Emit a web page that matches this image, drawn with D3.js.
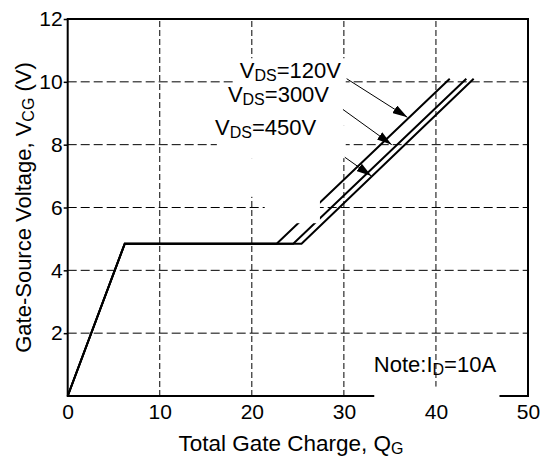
<!DOCTYPE html>
<html>
<head>
<meta charset="utf-8">
<script src="https://cdn.jsdelivr.net/npm/d3@7"></script>
<style>
  body { margin: 0; background: #fff; }
  text { font-family: "Liberation Sans", Arial, sans-serif; fill: #000; }
</style>
</head>
<body>
<svg id="chart"></svg>
<script>
// Data
const xTicks = [0, 10, 20, 30, 40, 50];
const yTicks = [2, 4, 6, 8, 10, 12];
const xGrid = [10, 20, 30, 40];
const yGrid = [2, 4, 6, 8, 10];

const curve120 = [[0, 0], [6.2, 4.85], [22.7, 4.85], [41.5, 10.1]];
const curve300 = [[0, 0], [6.2, 4.85], [24.5, 4.85], [43.3, 10.1]];
const curve450 = [[0, 0], [6.2, 4.85], [25.4, 4.85], [44.1, 10.1]];

const labels = [
  { name: '120V', x: 18.7, y: 10.12, from: [30.3, 10.1], to: [36.9, 8.87] },
  { name: '300V', x: 17.4, y: 9.37, from: [29.9, 9.12], to: [35.2, 8.0] },
  { name: '450V', x: 16.0, y: 8.31, from: [30.1, 7.6], to: [33.0, 7.0] }
];

// Set up dimensions
const width = 553;
const height = 457;

const svg = d3.select('#chart')
  .attr('width', width)
  .attr('height', height);

const xScale = d3.scaleLinear().domain([0, 50]).range([67.7, 528]);
const yScale = d3.scaleLinear().domain([0, 12]).range([396, 19]);

// Grid
svg.selectAll('.hgrid')
  .data(yGrid)
  .enter()
  .append('line')
  .attr('x1', xScale(0)).attr('x2', xScale(50))
  .attr('y1', d => yScale(d)).attr('y2', d => yScale(d))
  .attr('stroke', '#000').attr('stroke-width', 1)
  .attr('stroke-dasharray', '9,4');

svg.selectAll('.vgrid')
  .data(xGrid)
  .enter()
  .append('line')
  .attr('x1', d => xScale(d)).attr('x2', d => xScale(d))
  .attr('y1', yScale(0)).attr('y2', yScale(12))
  .attr('stroke', '#000').attr('stroke-width', 1)
  .attr('stroke-dasharray', '6,3');

// Curves
const line = d3.line().x(d => xScale(d[0])).y(d => yScale(d[1]));
[curve120, curve300, curve450].forEach(c => {
  svg.append('path')
    .attr('d', line(c))
    .attr('fill', 'none')
    .attr('stroke', '#000')
    .attr('stroke-width', 2);
});

// Frame
svg.append('rect')
  .attr('x', xScale(0)).attr('y', yScale(12))
  .attr('width', xScale(50) - xScale(0))
  .attr('height', yScale(0) - yScale(12))
  .attr('fill', 'none')
  .attr('stroke', '#000')
  .attr('stroke-width', 2);

// White patches behind the labels (blank areas in the original)
const patches = [
  [18.2, 30.2, 10.75, 8.6],
  [16.2, 30.2, 8.6, 7.57],
  [16.2, 27.4, 7.57, 6.34],
  [21.4, 27.4, 6.34, 5.5],
  [33.3, 46.9, 0.3, -0.2]
];
svg.selectAll('.patch')
  .data(patches)
  .enter()
  .append('rect')
  .attr('x', d => xScale(d[0]))
  .attr('y', d => yScale(d[2]))
  .attr('width', d => xScale(d[1]) - xScale(d[0]))
  .attr('height', d => yScale(d[3]) - yScale(d[2]))
  .attr('fill', '#fff');

// Axes labels
const xAxis = d3.axisBottom(xScale).tickValues(xTicks).tickSize(0).tickPadding(8);
const yAxis = d3.axisLeft(yScale).tickValues(yTicks).tickSize(4).tickPadding(1);

const gx = svg.append('g')
  .attr('transform', `translate(0, ${yScale(0)})`)
  .call(xAxis);
const gy = svg.append('g')
  .attr('transform', `translate(${xScale(0)}, 0)`)
  .call(yAxis);
[gx, gy].forEach(g => {
  g.select('.domain').remove();
  g.selectAll('line').attr('stroke', '#000').attr('stroke-width', 1.5);
  g.selectAll('text')
    .attr('font-size', 21)
    .style('font-family', '"Liberation Sans", Arial, sans-serif')
    .attr('fill', '#000');
});

// Arrows
svg.append('defs').append('marker')
  .attr('id', 'arrow')
  .attr('viewBox', '0 0 15 9')
  .attr('refX', 15).attr('refY', 4.5)
  .attr('markerWidth', 15).attr('markerHeight', 9)
  .attr('markerUnits', 'userSpaceOnUse')
  .attr('orient', 'auto')
  .append('path')
  .attr('d', 'M0,0 L15,4.5 L0,9 Z')
  .attr('fill', '#000');

svg.selectAll('.arrow')
  .data(labels)
  .enter()
  .append('line')
  .attr('x1', d => xScale(d.from[0])).attr('y1', d => yScale(d.from[1]))
  .attr('x2', d => xScale(d.to[0])).attr('y2', d => yScale(d.to[1]))
  .attr('stroke', '#000').attr('stroke-width', 1)
  .attr('marker-end', 'url(#arrow)');

// VDS labels
labels.forEach(d => {
  const t = svg.append('text')
    .attr('x', xScale(d.x))
    .attr('y', yScale(d.y))
    .attr('font-size', 22);
  t.append('tspan').text('V');
  t.append('tspan').attr('font-size', 16).attr('dy', 3).text('DS');
  t.append('tspan').attr('dy', -3).text('=' + d.name);
});

// Note
const note = svg.append('text')
  .attr('x', xScale(33.25))
  .attr('y', yScale(0.76))
  .attr('font-size', 22);
note.append('tspan').text('Note:I');
note.append('tspan').attr('font-size', 16).attr('dy', 3).text('D');
note.append('tspan').attr('dy', -3).text('=10A');

// Axis titles
const xt = svg.append('text')
  .attr('x', 291)
  .attr('y', 451)
  .attr('text-anchor', 'middle')
  .attr('font-size', 22.5);
xt.append('tspan').text('Total Gate Charge, Q');
xt.append('tspan').attr('font-size', 16).attr('dy', 3).text('G');

const yt = svg.append('text')
  .attr('transform', `translate(31, ${(yScale(0) + yScale(12)) / 2}) rotate(-90)`)
  .attr('text-anchor', 'middle')
  .attr('font-size', 22);
yt.append('tspan').text('Gate-Source Voltage, V');
yt.append('tspan').attr('font-size', 16).attr('dy', 3).text('CG');
yt.append('tspan').attr('dy', -3).text(' (V)');
</script>
</body>
</html>
